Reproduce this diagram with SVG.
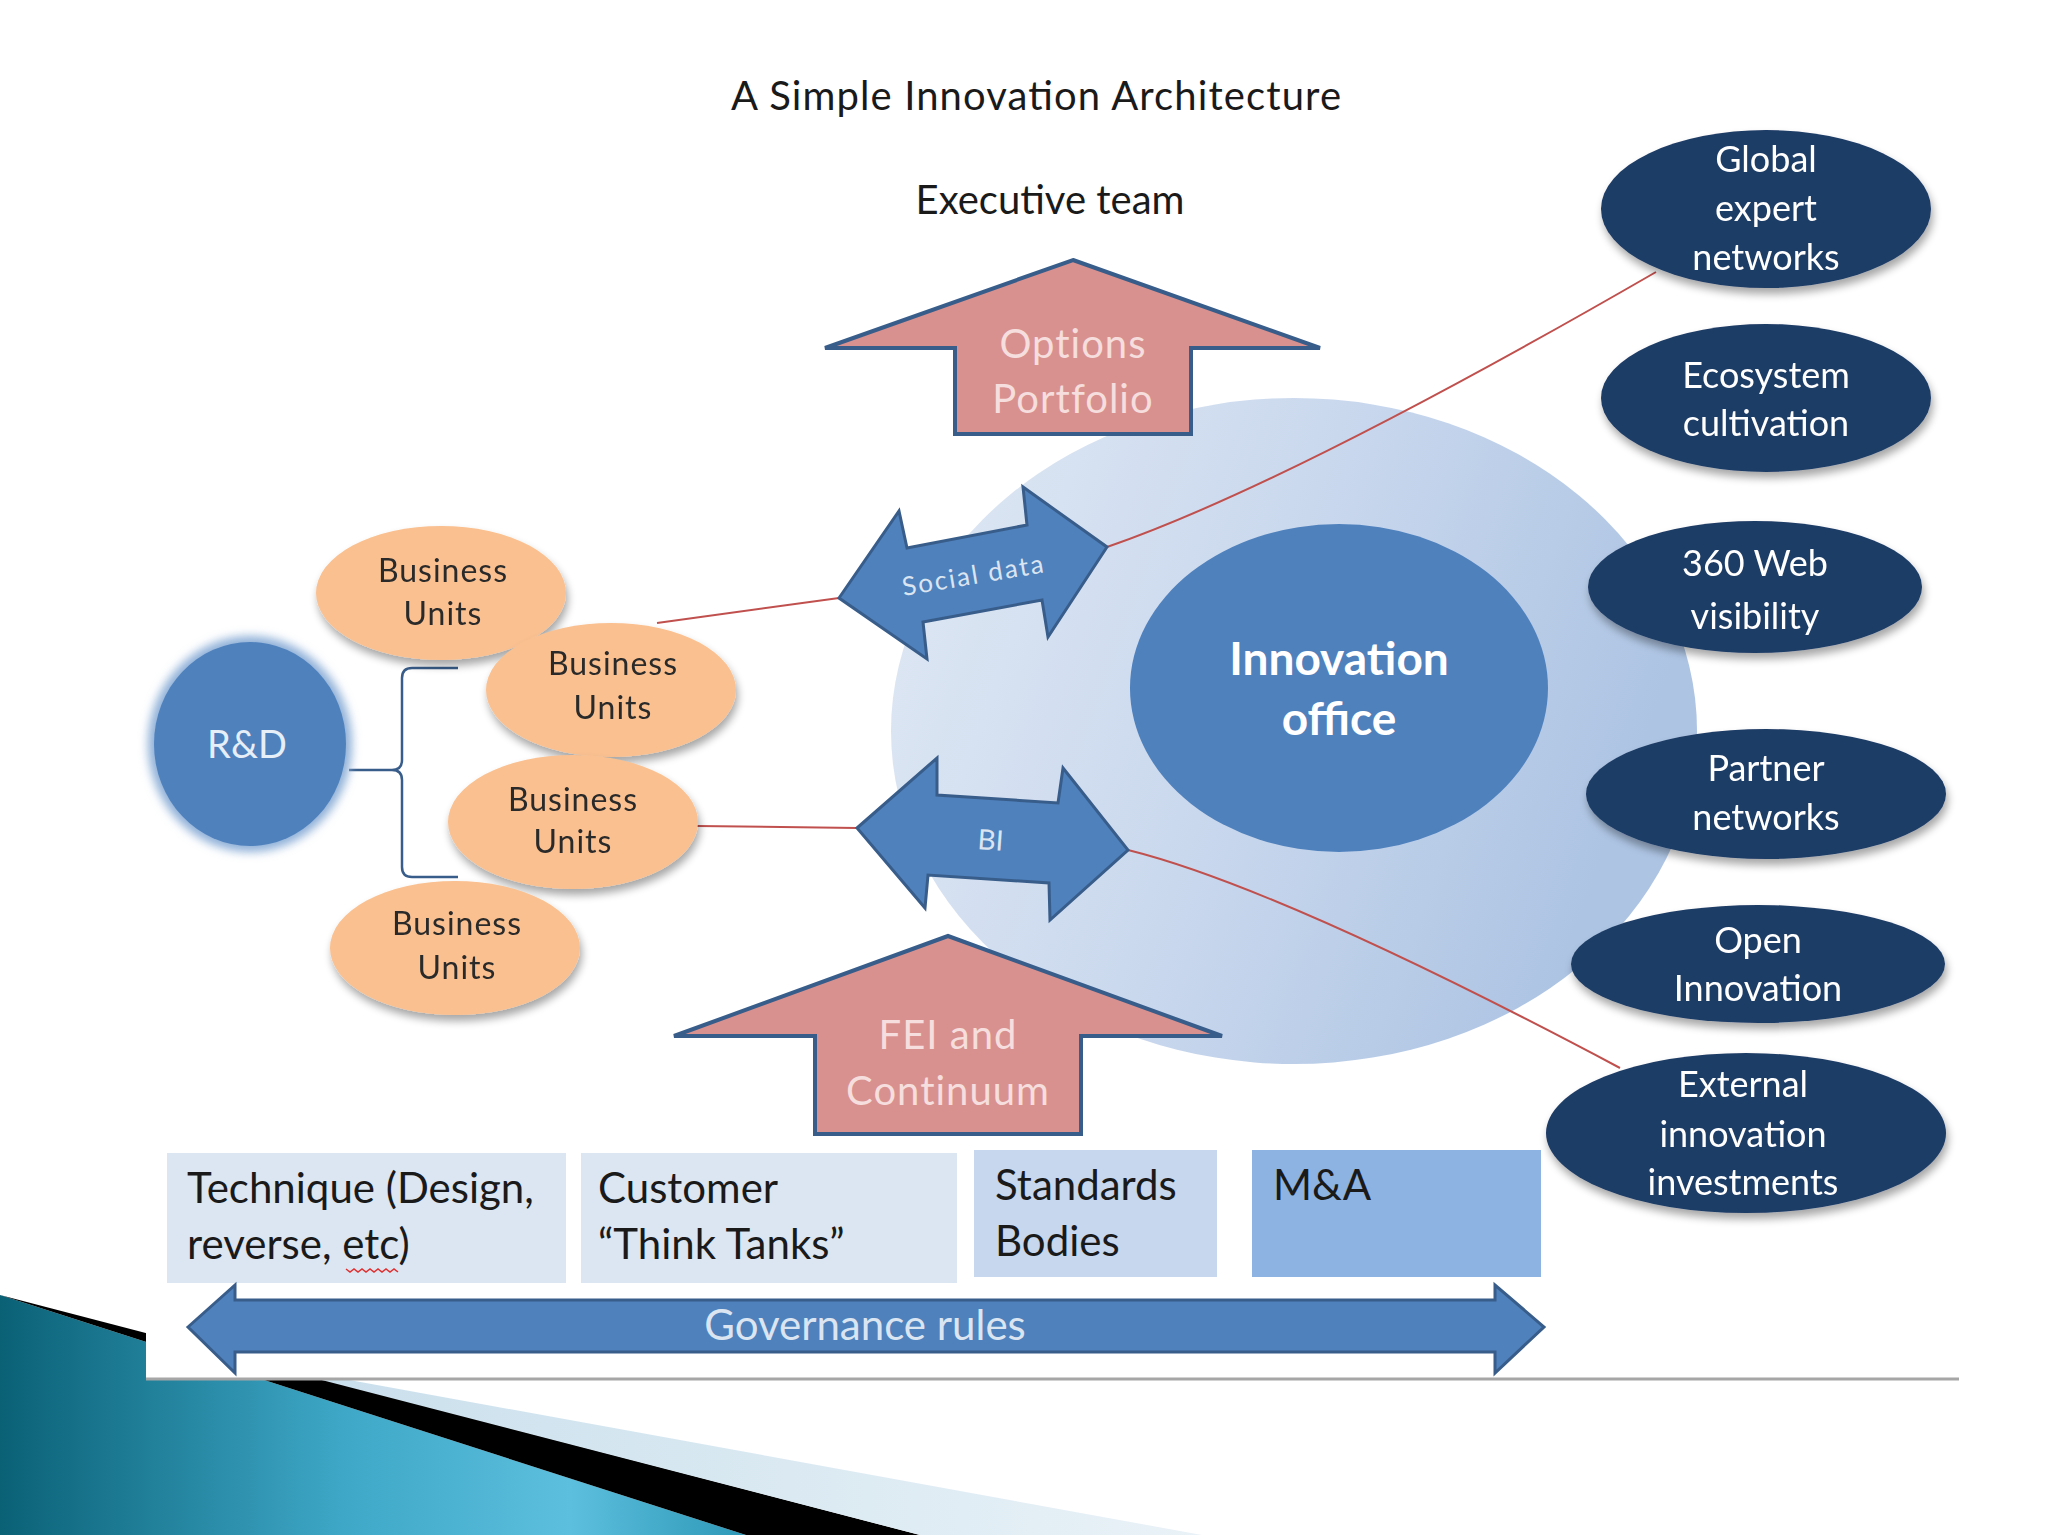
<svg xmlns="http://www.w3.org/2000/svg" width="2048" height="1535" viewBox="0 0 2048 1535">
<defs>
<style>
text{font-family:Lato,"Open Sans","Liberation Sans",sans-serif;}
.dark{fill:#1f3c66;}
.dtxt{fill:#ffffff;font-size:36px;text-anchor:middle;}
.bu{fill:#fac090;}
.butxt{fill:#2a2a2a;font-size:32px;text-anchor:middle;letter-spacing:1px;}
.pink{fill:#d9918f;stroke:#385d8a;stroke-width:4;stroke-linejoin:miter;}
.ptxt{fill:#f5dedd;font-size:40px;text-anchor:middle;letter-spacing:1px;}
.blue{fill:#4f81bd;stroke:#385d8a;stroke-width:3;stroke-linejoin:miter;}
.box{stroke:none;}
.btxt{fill:#1a1a1a;font-size:42px;}
.red{fill:none;stroke:#c0504d;stroke-width:2;}
</style>
<filter id="sh" x="-20%" y="-20%" width="140%" height="150%">
<feGaussianBlur in="SourceAlpha" stdDeviation="4"/>
<feOffset dx="2" dy="6" result="b"/>
<feComponentTransfer><feFuncA type="linear" slope="0.35"/></feComponentTransfer>
<feMerge><feMergeNode/><feMergeNode in="SourceGraphic"/></feMerge>
</filter>
<filter id="glow" x="-30%" y="-30%" width="160%" height="160%">
<feGaussianBlur stdDeviation="5"/>
</filter>
<linearGradient id="bigG" x1="0" y1="0" x2="1" y2="0.3">
<stop offset="0" stop-color="#e0e9f4"/>
<stop offset="0.5" stop-color="#cbd9ee"/>
<stop offset="1" stop-color="#adc4e3"/>
</linearGradient>
<linearGradient id="teal" gradientUnits="userSpaceOnUse" x1="0" y1="0" x2="760" y2="0">
<stop offset="0" stop-color="#0a6176"/>
<stop offset="0.45" stop-color="#3ea7c7"/>
<stop offset="0.75" stop-color="#5cbfdd"/>
<stop offset="1" stop-color="#2a95b5"/>
</linearGradient>
<linearGradient id="pale" gradientUnits="userSpaceOnUse" x1="300" y1="0" x2="1200" y2="0">
<stop offset="0" stop-color="#c9dfec"/>
<stop offset="1" stop-color="#e9f2f7"/>
</linearGradient>
</defs>

<rect width="2048" height="1535" fill="#ffffff"/>

<g id="slide-decoration">
<polygon points="0,1295 746,1535 0,1535" fill="url(#teal)"/>
<polygon points="0,1295 920,1535 746,1535" fill="#000000"/>
<polygon points="256,1363 1202,1535 920,1535" fill="url(#pale)"/>
<rect x="146" y="0" width="1813" height="1378" fill="#ffffff"/>
<line x1="146" y1="1379" x2="1959" y2="1379" stroke="#a6a6a6" stroke-width="3"/>
</g>

<g id="title">
<text x="1036" y="110" font-size="40" text-anchor="middle" fill="#1a1a1a" textLength="610">A Simple Innovation Architecture</text>
</g>
<g id="executive-team">
<text x="1050" y="214" font-size="40" text-anchor="middle" fill="#1a1a1a">Executive team</text>
</g>

<g id="innovation-field">
<ellipse cx="1294" cy="731" rx="403" ry="333" fill="url(#bigG)"/>
</g>

<g id="connectors">
<path class="red" d="M657,623 L839,598"/>
<path class="red" d="M1107,547 Q1287,485 1656,272"/>
<path class="red" d="M697,826 L857,828"/>
<path class="red" d="M1128,850 Q1281,888 1620,1068"/>
<path d="M349,770 L392,770 Q402,770 402,760 L402,678 Q402,668 412,668 L458,668 M402,780 L402,867 Q402,877 412,877 L458,877 M392,770 Q402,770 402,780" fill="none" stroke="#385d8a" stroke-width="2.5"/>
</g>

<g id="options-portfolio">
<polygon class="pink" points="1073,260 1320,348 1191,348 1191,434 955,434 955,348 825,348"/>
<text class="ptxt" x="1073" y="358">Options</text>
<text class="ptxt" x="1073" y="413">Portfolio</text>
</g>

<g id="innovation-office">
<ellipse cx="1339" cy="688" rx="209" ry="164" fill="#4f81bd"/>
<text x="1339" y="675" font-size="46" font-weight="bold" fill="#ffffff" text-anchor="middle">Innovation</text>
<text x="1339" y="735" font-size="46" font-weight="bold" fill="#ffffff" text-anchor="middle">office</text>
</g>

<g id="social-data">
<polygon class="blue" points="839,598 899,511 907,548 1027,525 1023,487 1107,547 1048,637 1042,600 923,622 927,659"/>
<text x="975" y="584" font-size="26" fill="#dbe5f1" text-anchor="middle" letter-spacing="2" transform="rotate(-9.5 975 584)">Social data</text>
</g>

<g id="bi">
<polygon class="blue" points="857,828 937,758 937,795 1058,803 1063,768 1128,850 1050,920 1049,883 928,875 925,908"/>
<text x="990" y="850" font-size="28" fill="#dbe5f1" text-anchor="middle" transform="rotate(4 990 850)">BI</text>
</g>

<g id="fei-continuum">
<polygon class="pink" points="948,936 1222,1036 1081,1036 1081,1134 815,1134 815,1036 674,1036"/>
<text class="ptxt" x="948" y="1049">FEI and</text>
<text class="ptxt" x="948" y="1105">Continuum</text>
</g>

<g id="rd">
<ellipse cx="250" cy="744" rx="102" ry="108" fill="#8fb0d8" filter="url(#glow)"/>
<ellipse cx="250" cy="744" rx="96" ry="102" fill="#4f81bd"/>
<text x="247" y="758" font-size="38" fill="#e6eef8" text-anchor="middle">R&amp;D</text>
</g>

<g id="bu1" filter="url(#sh)">
<ellipse class="bu" cx="441" cy="593" rx="125" ry="67"/>
<text class="butxt" x="443" y="582">Business</text>
<text class="butxt" x="443" y="625">Units</text>
</g>
<g id="bu2" filter="url(#sh)">
<ellipse class="bu" cx="611" cy="690" rx="125" ry="67"/>
<text class="butxt" x="613" y="675">Business</text>
<text class="butxt" x="613" y="719">Units</text>
</g>
<g id="bu3" filter="url(#sh)">
<ellipse class="bu" cx="573" cy="822" rx="125" ry="67"/>
<text class="butxt" x="573" y="811">Business</text>
<text class="butxt" x="573" y="853">Units</text>
</g>
<g id="bu4" filter="url(#sh)">
<ellipse class="bu" cx="455" cy="948" rx="125" ry="67"/>
<text class="butxt" x="457" y="935">Business</text>
<text class="butxt" x="457" y="979">Units</text>
</g>

<g id="global-expert-networks" filter="url(#sh)">
<ellipse class="dark" cx="1766" cy="209" rx="165" ry="79"/>
<text class="dtxt" x="1766" y="172">Global</text>
<text class="dtxt" x="1766" y="221">expert</text>
<text class="dtxt" x="1766" y="270">networks</text>
</g>
<g id="ecosystem-cultivation" filter="url(#sh)">
<ellipse class="dark" cx="1766" cy="398" rx="165" ry="74"/>
<text class="dtxt" x="1766" y="388">Ecosystem</text>
<text class="dtxt" x="1766" y="436">cultivation</text>
</g>
<g id="web-visibility" filter="url(#sh)">
<ellipse class="dark" cx="1755" cy="587" rx="167" ry="66"/>
<text class="dtxt" x="1755" y="576" font-size="40">360 Web</text>
<text class="dtxt" x="1755" y="629" font-size="40">visibility</text>
</g>
<g id="partner-networks" filter="url(#sh)">
<ellipse class="dark" cx="1766" cy="794" rx="180" ry="65"/>
<text class="dtxt" x="1766" y="781">Partner</text>
<text class="dtxt" x="1766" y="830">networks</text>
</g>
<g id="open-innovation" filter="url(#sh)">
<ellipse class="dark" cx="1758" cy="964" rx="187" ry="59"/>
<text class="dtxt" x="1758" y="953">Open</text>
<text class="dtxt" x="1758" y="1001">Innovation</text>
</g>
<g id="external-innovation-investments" filter="url(#sh)">
<ellipse class="dark" cx="1746" cy="1133" rx="200" ry="80"/>
<text class="dtxt" x="1743" y="1097">External</text>
<text class="dtxt" x="1743" y="1147">innovation</text>
<text class="dtxt" x="1743" y="1195">investments</text>
</g>

<g id="technique">
<rect class="box" x="167" y="1153" width="399" height="130" fill="#dce6f2"/>
<text class="btxt" x="187" y="1203">Technique (Design,</text>
<text class="btxt" x="187" y="1259">reverse, etc)</text>
<path d="M346,1269 l4,3 l4,-3 l4,3 l4,-3 l4,3 l4,-3 l4,3 l4,-3 l4,3 l4,-3 l4,3 l4,-3 l4,3" fill="none" stroke="#e03030" stroke-width="1.5"/>
</g>
<g id="customer-think-tanks">
<rect class="box" x="581" y="1153" width="376" height="130" fill="#dce6f2"/>
<text class="btxt" x="598" y="1203">Customer</text>
<text class="btxt" x="598" y="1259">“Think Tanks”</text>
</g>
<g id="standards-bodies">
<rect class="box" x="974" y="1150" width="243" height="127" fill="#c6d7ee"/>
<text class="btxt" x="995" y="1200">Standards</text>
<text class="btxt" x="995" y="1256">Bodies</text>
</g>
<g id="ma">
<rect class="box" x="1252" y="1150" width="289" height="127" fill="#8db3e2"/>
<text class="btxt" x="1273" y="1200">M&amp;A</text>
</g>

<g id="governance-rules">
<polygon class="blue" points="188,1327 235,1285 235,1300 1495,1300 1495,1285 1544,1327 1495,1373 1495,1352 235,1352 235,1373"/>
<text x="865" y="1340" font-size="42" fill="#dbe5f1" text-anchor="middle">Governance rules</text>
</g>
</svg>
